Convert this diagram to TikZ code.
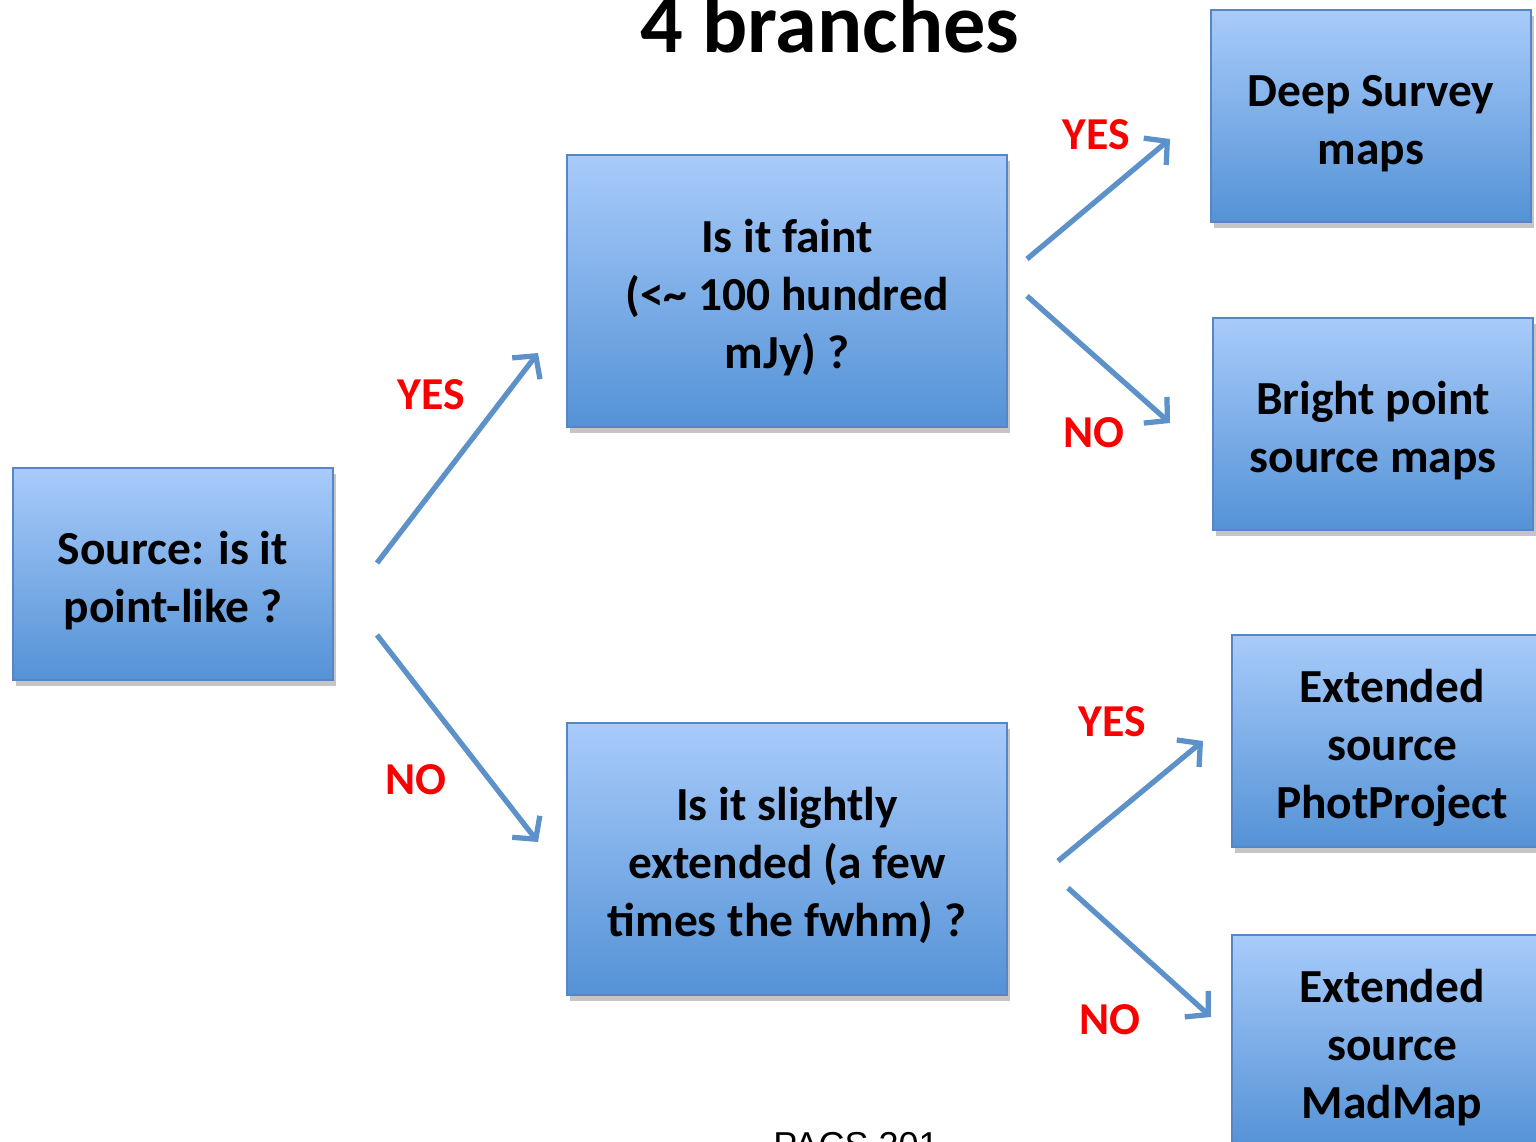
\documentclass[tikz,border=0pt]{standalone}
\usepackage{fontspec}
\setmainfont{Carlito}
\newfontfamily\pacsfont{Liberation Sans}
\usetikzlibrary{arrows.meta,shadows,positioning}

\definecolor{boxtop}{RGB}{168,203,250}
\definecolor{boxbot}{RGB}{84,146,214}
\definecolor{boxline}{RGB}{86,135,196}
\definecolor{flowblue}{RGB}{93,145,201}
\definecolor{answerred}{RGB}{250,0,0}

% box text, set a little lower than the centre
\newcommand{\boxtext}[1]{\raisebox{-4.3pt}[\height][\depth]{\begin{tabular}{@{}c@{}}#1\end{tabular}}}

\tikzset{
  qbox/.style={draw=boxline, line width=0.8pt, top color=boxtop, bottom color=boxbot,
    drop shadow={shadow xshift=0.6mm, shadow yshift=-1.2mm, fill=black!45, opacity=0.5},
    minimum width=6.4cm, minimum height=4.24cm, inner sep=0pt,
    font=\fontsize{27}{33}\selectfont\bfseries},
  answer/.style={text=answerred, font=\fontsize{26}{30}\selectfont\bfseries},
  flow/.style={draw=flowblue, line width=3pt,
    -{Straight Barb[length=3.2mm, width=7mm, line width=3pt]}}
}

\begin{document}
\begin{tikzpicture}[x=0.02cm, y=-0.02cm]
\useasboundingbox (0,0) rectangle (1536,1142);

% Title
\node[anchor=base, font=\fontsize{48}{52}\selectfont\bfseries] (title) at (830,53) {4 branches};

% Boxes
\node[qbox] (src) at (173,574) {\boxtext{Source: is it\\point-like ?}};
\node[qbox, minimum width=8.8cm, minimum height=5.44cm] (faint) at (787,291) {\boxtext{Is it faint\\(<\textasciitilde{} 100 hundred\\mJy) ?}};
\node[qbox, minimum width=8.8cm, minimum height=5.44cm] (ext) at (787,859) {\boxtext{Is it slightly\\extended (a few\\times the fwhm) ?}};
\node[qbox] (deep) at (1371,116) {\boxtext{Deep Survey\\maps}};
\node[qbox] (bright) at (1373,424) {\boxtext{Bright point\\source maps}};
\node[qbox] (phot) at (1392,741) {\boxtext{Extended\\source\\PhotProject}};
\node[qbox] (mad) at (1392,1041) {\boxtext{Extended\\source\\MadMap}};

% Arrows
\coordinate (a1) at (377,563); \coordinate (b1) at (538,353);
\coordinate (a2) at (377,635); \coordinate (b2) at (538,842);
\coordinate (a3) at (1027,259); \coordinate (b3) at (1170,139);
\coordinate (a4) at (1027,296); \coordinate (b4) at (1170,423);
\coordinate (a5) at (1058,861); \coordinate (b5) at (1203,741);
\coordinate (a6) at (1068,888); \coordinate (b6) at (1211,1017);
\draw[flow] (a1) -- (b1);
\draw[flow] (a2) -- (b2);
\draw[flow] (a3) -- (b3);
\draw[flow] (a4) -- (b4);
\draw[flow] (a5) -- (b5);
\draw[flow] (a6) -- (b6);

% Labels
\node[answer] (y1) at (431,395) {YES};
\node[answer] (n1) at (416,780) {NO};
\node[answer] (y2) at (1096,135) {YES};
\node[answer] (n2) at (1094,433) {NO};
\node[answer] (y3) at (1112,722) {YES};
\node[answer] (n3) at (1110,1020) {NO};

% Footer
\node[anchor=base, font=\pacsfont\fontsize{20.5}{24}\selectfont] (foot) at (856,1157) {PACS 201};

\end{tikzpicture}
\end{document}
